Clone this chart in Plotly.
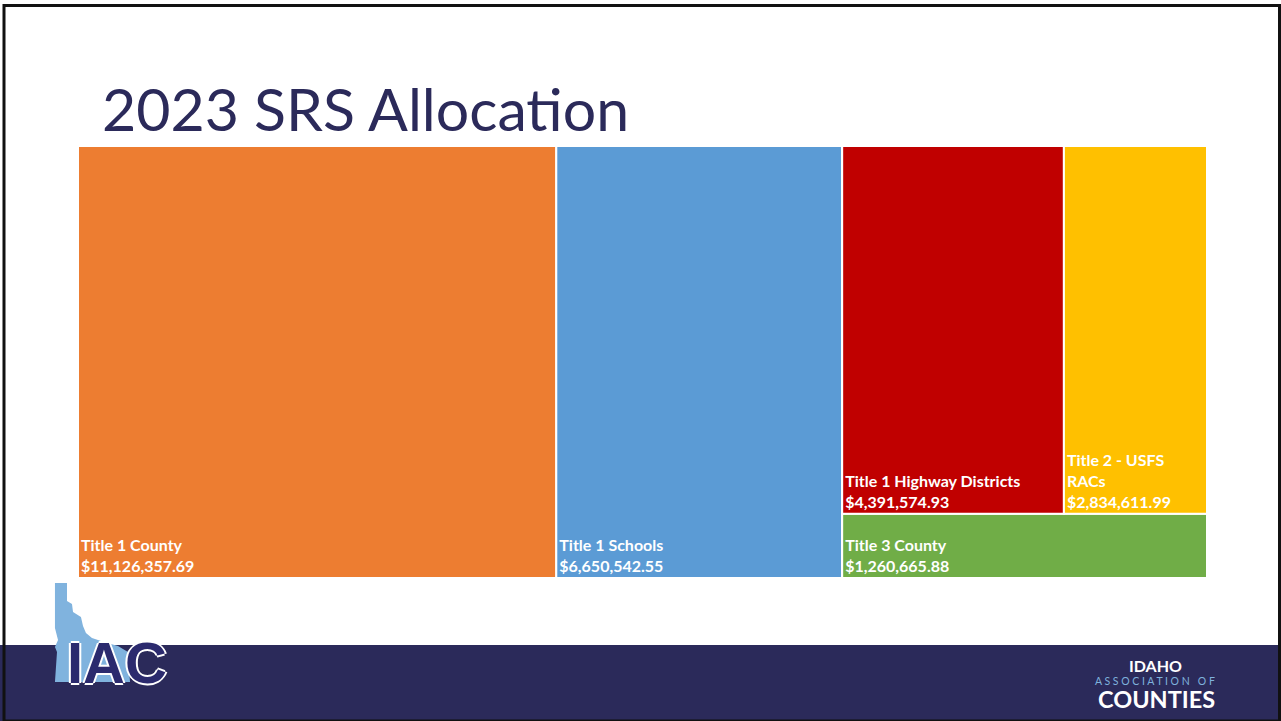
import plotly.graph_objects as go

# slide canvas
W, H = 1281, 721

# data
categories = ["Title 1 County", "Title 1 Schools", "Title 1 Highway Districts",
              "Title 2 - USFS RACs", "Title 3 County"]
amounts = [11126357.69, 6650542.55, 4391574.93, 2834611.99, 1260665.88]
tile_colors = ["#ED7D31", "#5B9BD5", "#C00000", "#FFC000", "#70AD47"]
# which group each allocation sits in (used only for the tile layout)
group_of = ["all", "all", "sub", "sub", "grp"]

NAVY = "#2B2A5A"


def px_x(x):
    return x / W


def px_y(y):
    return 1 - y / H


# build hierarchy: root -> County, Schools, grp; grp -> sub, Title 3; sub -> Highway, RACs
ids = ["all", "grp", "sub"]
parents = ["", "all", "grp"]
labels = ["", "", ""]
values = [0, 0, 0]
colors = ["white", "white", "white"]
texts = ["", "", ""]
for cat, amt, col, grp in zip(categories, amounts, tile_colors, group_of):
    ids.append(cat)
    parents.append(grp)
    labels.append(cat)
    values.append(amt)
    colors.append(col)
    name = cat.replace("USFS ", "USFS<br>")
    texts.append(f"{name}<br>${amt:,.2f}")

# reorder so the group comes after Schools in the root
order = [0, 3, 4, 1, 2, 5, 6, 7]
ids = [ids[i] for i in order]
parents = [parents[i] for i in order]
labels = [labels[i] for i in order]
values = [values[i] for i in order]
colors = [colors[i] for i in order]
texts = [texts[i] for i in order]

fig = go.Figure()
fig.add_trace(go.Treemap(
    ids=ids, parents=parents, labels=labels, values=values,
    branchvalues="remainder", sort=False,
    text=texts, textinfo="text", textposition="bottom left",
    textfont=dict(family="Lato", size=16, color="white", weight="bold"),
    marker=dict(colors=colors, line=dict(color="white", width=2),
                pad=dict(t=0, l=0, r=0, b=0)),
    tiling=dict(packing="slice-dice", pad=0),
    pathbar=dict(visible=False),
    hoverinfo="skip",
    domain=dict(x=[px_x(78), px_x(1207)], y=[px_y(578), px_y(146)]),
))

shapes = [
    # bottom navy band
    dict(type="rect", xref="paper", yref="paper", x0=0, x1=1, y0=0, y1=px_y(645),
         fillcolor=NAVY, line=dict(width=0), layer="below"),
    # slide border
    dict(type="rect", xref="paper", yref="paper", x0=px_x(4), x1=px_x(1279.5),
         y0=px_y(721), y1=px_y(5.5), line=dict(color="#111111", width=3)),
    # Idaho outline of the IAC logo
    dict(type="path", xref="paper", yref="paper", fillcolor="#80B3DE", line=dict(width=0),
         path="M " + " L ".join(f"{px_x(x):.4f},{px_y(y):.4f}" for x, y in [
             (55, 583), (67, 583), (67, 601), (72, 604), (73, 612), (81, 617), (83, 626),
             (86, 633), (92, 638), (104, 642), (118, 646), (128, 652), (130, 682),
             (55, 682), (57, 652), (55, 647), (58, 640), (55, 628)]) + " Z"),
]

annotations = [
    dict(text="2023 SRS Allocation", x=px_x(100), y=px_y(109), xanchor="left", yanchor="middle",
         showarrow=False, font=dict(family="Lato", size=59, color=NAVY)),
    dict(text="<b>IAC</b>", x=px_x(117), y=px_y(662), xanchor="center", yanchor="middle",
         showarrow=False,
         font=dict(family="Liberation Sans", size=58, color="#2B2A6E",
                   shadow="2px 0 0 white, -2px 0 0 white, 0 2px 0 white, 0 -2px 0 white")),
    dict(text="<b>IDAHO</b>", x=px_x(1155), y=px_y(665), xanchor="center", yanchor="middle",
         showarrow=False, font=dict(family="Lato", size=16, color="white")),
    dict(text="A S S O C I A T I O N   O F", x=px_x(1155), y=px_y(681), xanchor="center",
         yanchor="middle", showarrow=False,
         font=dict(family="Lato", size=10.5, color="#7FB2DD")),
    dict(text="<b>COUNTIES</b>", x=px_x(1156), y=px_y(699), xanchor="center", yanchor="middle",
         showarrow=False, font=dict(family="Lato", size=23.5, color="white")),
]

fig.update_layout(
    width=W, height=H, margin=dict(l=0, r=0, t=0, b=0),
    paper_bgcolor="white", plot_bgcolor="white",
    shapes=shapes, annotations=annotations, showlegend=False,
)

fig.write_html("out.html", config={"displayModeBar": False},
               post_script="document.body.style.margin='0';")
